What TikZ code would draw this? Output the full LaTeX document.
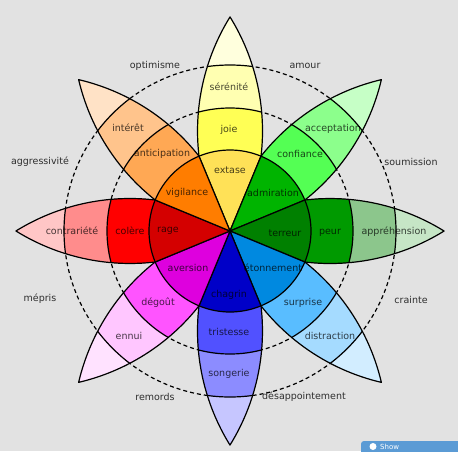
\documentclass[tikz,border=0pt]{standalone}
\usepackage{fontspec}
\setmainfont{DejaVu Sans}
% yellow
\definecolor{y1}{HTML}{FFE157}\definecolor{y2}{HTML}{FFFF55}\definecolor{y3}{HTML}{FFFFB1}\definecolor{y4}{HTML}{FFFFDD}
% light green
\definecolor{g1}{HTML}{00B400}\definecolor{g2}{HTML}{54FF54}\definecolor{g3}{HTML}{8CFF8C}\definecolor{g4}{HTML}{C6FFC6}
% dark green
\definecolor{d1}{HTML}{008000}\definecolor{d2}{HTML}{009A00}\definecolor{d3}{HTML}{8CC68C}\definecolor{d4}{HTML}{C6E6C6}
% light blue
\definecolor{b1}{HTML}{0089E0}\definecolor{b2}{HTML}{59BDFF}\definecolor{b3}{HTML}{A5DBFF}\definecolor{b4}{HTML}{D2EDFF}
% dark blue
\definecolor{n1}{HTML}{0000C8}\definecolor{n2}{HTML}{5151FF}\definecolor{n3}{HTML}{8C8CFF}\definecolor{n4}{HTML}{C6C6FF}
% magenta
\definecolor{m1}{HTML}{DE00DE}\definecolor{m2}{HTML}{FF54FF}\definecolor{m3}{HTML}{FFC6FF}\definecolor{m4}{HTML}{FFE2FF}
% red
\definecolor{r1}{HTML}{D40000}\definecolor{r2}{HTML}{FF0000}\definecolor{r3}{HTML}{FF8C8C}\definecolor{r4}{HTML}{FFC6C6}
% orange
\definecolor{o1}{HTML}{FF7D00}\definecolor{o2}{HTML}{FFA854}\definecolor{o3}{HTML}{FFC48C}\definecolor{o4}{HTML}{FFE2C6}
\definecolor{bgc}{HTML}{E2E2E2}
\definecolor{btn}{HTML}{5B9BD5}
\newcommand\wheelpetal[5]{%
\begin{scope}[shift={(230,-231)}, rotate=#1]
  \begin{scope}
    \clip (22.5:81) arc[start angle=96.69, end angle=58.2, radius=216.4]
      arc[start angle=-58.2, end angle=-96.69, radius=216.4]
      arc[start angle=-22.5, end angle=22.5, radius=81] -- cycle;
    \fill[#5] (0,0) circle (225);
    \fill[#4] (0,0) circle (166);
    \fill[#3] (0,0) circle (123);
    \draw[edge] (0,0) circle (166) (0,0) circle (123);
  \end{scope}
  \draw[edge] (22.5:81) arc[start angle=96.69, end angle=58.2, radius=216.4]
      arc[start angle=-58.2, end angle=-96.69, radius=216.4];
\end{scope}}
\begin{document}
\begin{tikzpicture}[x=1pt,y=1pt,
  edge/.style={draw=black, line width=1.2pt, line join=round},
  ring/.style={draw=black, line width=1.2pt, dash pattern=on 4pt off 3pt},
  lab/.style={font=\fontsize{9.5}{11}\selectfont, text=black, text opacity=0.72, inner sep=0pt},
  olab/.style={font=\fontsize{9.5}{11}\selectfont, text=black!82, inner sep=0pt}]
\clip (0,0) rectangle (458,-451);
\fill[bgc] (0,0) rectangle (458,-451);
% dashed circles
\coordinate (c) at (230,-231);
\draw[ring] (c) circle (123);
\draw[ring] (c) circle (166);
% petals
\wheelpetal{90}{y1}{y2}{y3}{y4}
\wheelpetal{45}{g1}{g2}{g3}{g4}
\wheelpetal{0}{d1}{d2}{d3}{d4}
\wheelpetal{-45}{b1}{b2}{b3}{b4}
\wheelpetal{-90}{n1}{n2}{n3}{n4}
\wheelpetal{-135}{m1}{m2}{m3}{m4}
\wheelpetal{180}{r1}{r2}{r3}{r4}
\wheelpetal{135}{o1}{o2}{o3}{o4}
% inner sectors
\foreach \a/\col in {90/y1,45/g1,0/d1,-45/b1,-90/n1,-135/m1,180/r1,135/o1}{
  \filldraw[fill=\col, edge] (c) -- ++({\a-22.5}:81) arc[start angle={\a-22.5}, end angle={\a+22.5}, radius=81] -- cycle;
}
% labels inside
\node[lab] (l1) at (230,-170) {extase};
\node[lab] (l2) at (229,-130) {joie};
\node[lab] (l3) at (229,-87) {sérénité};
\node[lab] (l4) at (273,-193) {admiration};
\node[lab] (l5) at (300,-154) {confiance};
\node[lab] (l6) at (333,-129) {acceptation};
\node[lab] (l7) at (285,-233) {terreur};
\node[lab] (l8) at (330,-233) {peur};
\node[lab] (l9) at (394,-232) {appréhension};
\node[lab] (l10) at (273,-268) {étonnement};
\node[lab] (l11) at (303,-303) {surprise};
\node[lab] (l12) at (330,-336) {distraction};
\node[lab] (l13) at (229,-295) {chagrin};
\node[lab] (l14) at (229,-332) {tristesse};
\node[lab] (l15) at (229,-374) {songerie};
\node[lab] (l16) at (188,-268) {aversion};
\node[lab] (l17) at (158,-303) {dégoût};
\node[lab] (l18) at (129,-336) {ennui};
\node[lab] (l19) at (168,-231) {rage};
\node[lab] (l20) at (130,-231) {colère};
\node[lab] (l21) at (72,-231) {contrariété};
\node[lab] (l22) at (187,-193) {vigilance};
\node[lab] (l23) at (162,-154) {anticipation};
\node[lab] (l24) at (128,-128) {intérêt};
% outer labels
\node[olab] (o1) at (155,-66) {optimisme};
\node[olab] (o2) at (305,-66) {amour};
\node[olab] (o3) at (40,-162) {aggressivité};
\node[olab] (o4) at (411,-162) {soumission};
\node[olab] (o5) at (40,-299) {mépris};
\node[olab] (o6) at (411,-300) {crainte};
\node[olab] (o7) at (155,-397) {remords};
\node[olab] (o8) at (304,-397) {désappointement};
% partial button
\fill[btn, rounded corners=3pt] (361,-441) rectangle (475,-470);
\fill[white] (373,-446.5) circle (3.5);
\node[font=\fontsize{7}{8}\selectfont, text=white, anchor=west, inner sep=0pt] (bt) at (380,-446.5) {Show};
\end{tikzpicture}
\end{document}
